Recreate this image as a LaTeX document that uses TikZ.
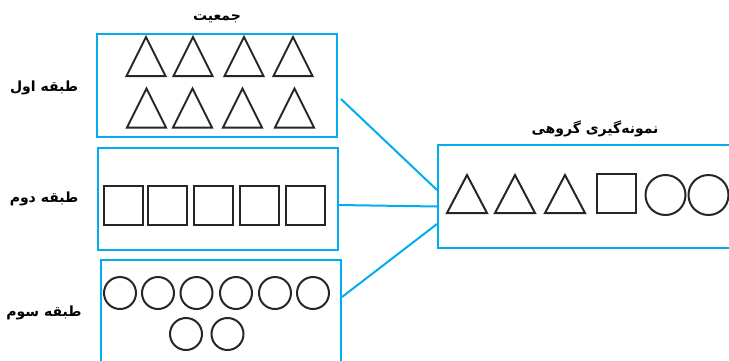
\documentclass[tikz,border=0pt]{standalone}
\usepackage{fontspec}
\newfontfamily\arabicfont[Script=Arabic]{DejaVu Sans}
\TeXXeTstate=1
\definecolor{frameblue}{RGB}{0,174,239}
\tikzset{
  frame/.style={draw=frameblue, line width=2.3pt, anchor=north west, inner sep=0pt},
  link/.style={draw=frameblue, line width=2pt},
  shapeline/.style={draw=black!85, line width=2pt, line join=miter},
  lbl/.style={font=\arabicfont\bfseries\fontsize{14}{16}\selectfont, inner sep=0pt},
  tri/.pic={\draw[shapeline] (-19.5,19.5) -- (0,-19.5) -- (19.5,19.5) -- cycle;},
  bigtri/.pic={\draw[shapeline] (-20,19) -- (0,-19) -- (20,19) -- cycle;},
  sq/.pic={\draw[shapeline] (-19.5,-19.5) rectangle (19.5,19.5);},
  circ/.pic={\draw[shapeline] (0,0) circle (16pt);},
  bigcirc/.pic={\draw[shapeline] (0,0) circle (20pt);}
}
\begin{document}
\begin{tikzpicture}[x=1pt,y=-1pt]
\useasboundingbox (0,0) rectangle (729,360);
\clip (0,0) rectangle (729,360);

% strata boxes and the sample box
\node[frame, minimum width=240pt, minimum height=103pt] (pop1) at (96,33) {};
\node[frame, minimum width=240pt, minimum height=102pt] (pop2) at (97,147) {};
\node[frame, minimum width=240pt, minimum height=130pt] (pop3) at (100,259) {};
\node[frame, minimum width=330pt, minimum height=103pt] (sample) at (437,144) {};

% labels
\node[lbl] (title) at (217,19) {\beginR جمعیت\endR};
\node[lbl] (s1) at (44,88) {\beginR طبقه اول\endR};
\node[lbl] (s2) at (44,199) {\beginR طبقه دوم\endR};
\node[lbl] (s3) at (44,313) {\beginR طبقه سوم\endR};
\node[lbl] (stitle) at (595,129) {\beginR نمونه‌گیری گروهی\endR};

% first stratum: triangles
\foreach \x in {146,193,244,293} \pic at (\x,56.5) {tri};
\foreach \x in {146.5,192.5,242.5,294.5} \pic at (\x,108) {tri};

% second stratum: squares
\foreach \x in {123.5,167.5,213.5,259.5,305.5} \pic at (\x,205) {sq};

% third stratum: circles
\foreach \x in {120,158,196.5,236,275,313} \pic at (\x,293) {circ};
\foreach \x in {186,227.5} \pic at (\x,334) {circ};

% sample
\foreach \x in {467,515,565} \pic at (\x,194) {bigtri};
\pic at (616,193.5) {sq};
\foreach \x in {665.5,708.5} \pic at (\x,195) {bigcirc};

% connectors
\coordinate (a1) at (341,99);
\coordinate (b1) at (437,190);
\coordinate (a2) at (338,205);
\coordinate (b2) at (437,206.5);
\coordinate (a3) at (342,297);
\coordinate (b3) at (437,224);
\draw[link] (a1) -- (b1);
\draw[link] (a2) -- (b2);
\draw[link] (a3) -- (b3);
\end{tikzpicture}
\end{document}
